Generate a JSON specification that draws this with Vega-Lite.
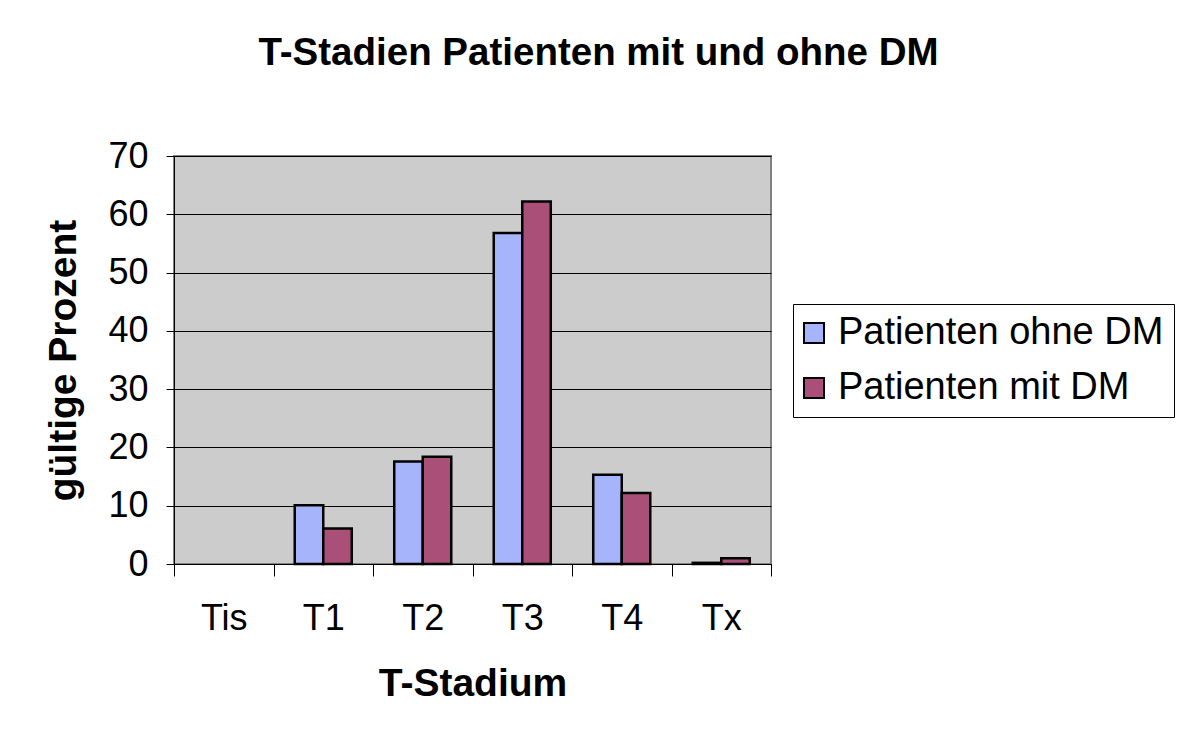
{
  "$schema": "https://vega.github.io/schema/vega-lite/v6.json",
  "width": 597,
  "height": 408,
  "autosize": {"type": "none"},
  "padding": {"left": 174, "top": 156, "right": 411, "bottom": 169},
  "background": "white",
  "title": {
    "text": "T-Stadien Patienten mit und ohne DM",
    "font": "Liberation Sans",
    "fontSize": 38.5,
    "fontWeight": "bold",
    "color": "black",
    "anchor": "middle",
    "frame": "group",
    "baseline": "alphabetic",
    "dx": 126,
    "offset": 35
  },
  "config": {
    "view": {"fill": "#CCCCCC", "stroke": "#808080", "strokeWidth": 2},
    "font": "Liberation Sans"
  },
  "data": {
    "values": [
      {"T": "Tis", "Gruppe": "Patienten ohne DM", "Prozent": 0},
      {"T": "Tis", "Gruppe": "Patienten mit DM", "Prozent": 0},
      {"T": "T1", "Gruppe": "Patienten ohne DM", "Prozent": 10.1},
      {"T": "T1", "Gruppe": "Patienten mit DM", "Prozent": 6.1},
      {"T": "T2", "Gruppe": "Patienten ohne DM", "Prozent": 17.6},
      {"T": "T2", "Gruppe": "Patienten mit DM", "Prozent": 18.4},
      {"T": "T3", "Gruppe": "Patienten ohne DM", "Prozent": 56.8},
      {"T": "T3", "Gruppe": "Patienten mit DM", "Prozent": 62.2},
      {"T": "T4", "Gruppe": "Patienten ohne DM", "Prozent": 15.3},
      {"T": "T4", "Gruppe": "Patienten mit DM", "Prozent": 12.2},
      {"T": "Tx", "Gruppe": "Patienten ohne DM", "Prozent": 0.2},
      {"T": "Tx", "Gruppe": "Patienten mit DM", "Prozent": 1.0}
    ]
  },
  "mark": {"type": "bar", "stroke": "black", "strokeWidth": 2.5},
  "encoding": {
    "x": {
      "field": "T",
      "type": "nominal",
      "sort": ["Tis", "T1", "T2", "T3", "T4", "Tx"],
      "scale": {"paddingInner": 0, "paddingOuter": 0},
      "axis": {
        "title": "T-Stadium",
        "tickBand": "extent",
        "tickSize": 12,
        "tickColor": "black",
        "domainColor": "black",
        "labelAngle": 0,
        "labelFontSize": 36,
        "labelColor": "black",
        "labelPadding": 25,
        "titleFontSize": 39,
        "titleFontWeight": "bold",
        "titleColor": "black",
        "titlePadding": 28
      }
    },
    "xOffset": {
      "field": "Gruppe",
      "type": "nominal",
      "sort": ["Patienten ohne DM", "Patienten mit DM"],
      "scale": {"paddingOuter": 0.745, "paddingInner": 0}
    },
    "y": {
      "field": "Prozent",
      "type": "quantitative",
      "scale": {"domain": [0, 70], "nice": false},
      "axis": {
        "title": "gültige Prozent",
        "values": [0, 10, 20, 30, 40, 50, 60, 70],
        "grid": true,
        "gridColor": "black",
        "gridWidth": 1,
        "gridOpacity": 1,
        "tickSize": 8,
        "tickColor": "black",
        "domainColor": "black",
        "labelFontSize": 36,
        "labelColor": "black",
        "labelPadding": 18,
        "titleFontSize": 39,
        "titleFontWeight": "bold",
        "titleColor": "black",
        "titlePadding": 24
      }
    },
    "strokeOpacity": {
      "condition": {"test": "datum.Prozent == 0", "value": 0},
      "value": 1
    },
    "color": {
      "field": "Gruppe",
      "type": "nominal",
      "sort": ["Patienten ohne DM", "Patienten mit DM"],
      "scale": {
        "domain": ["Patienten ohne DM", "Patienten mit DM"],
        "range": ["#A5B4FB", "#AA4F77"]
      },
      "legend": {
        "title": null,
        "orient": "none",
        "legendX": 619,
        "legendY": 148,
        "strokeColor": "black",
        "fillColor": "white",
        "padding": 10,
        "symbolType": "square",
        "symbolSize": 400,
        "symbolOffset": -8,
        "symbolStrokeColor": "black",
        "symbolStrokeWidth": 2,
        "symbolOpacity": 1,
        "labelFontSize": 38,
        "labelColor": "black",
        "labelOffset": 5,
        "labelLimit": 500,
        "rowPadding": 17
      }
    }
  }
}
